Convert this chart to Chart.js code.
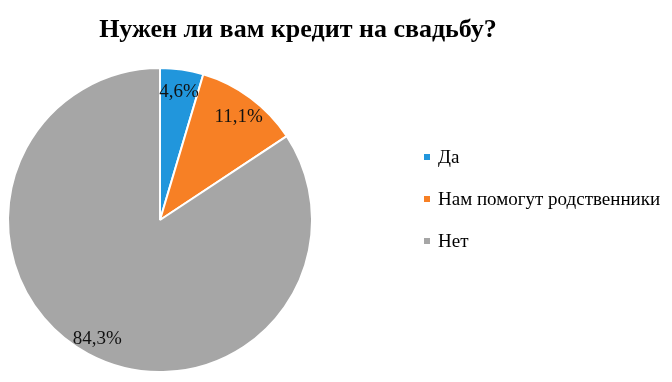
<!DOCTYPE html>
<html lang="ru">
<head>
<meta charset="utf-8">
<script src="https://cdn.jsdelivr.net/npm/chart.js@4"></script>
<style>
    body { margin: 0; background: #fff; }
    #quadro { position: relative; width: 672px; height: 382px; font-family: "Liberation Serif", "Times New Roman", serif; }
    #titulo { position: absolute; left: 0; top: 13px; width: 596px; text-align: center; font-size: 26px; font-weight: bold; line-height: 32px; color: #000; }
    #legenda .item { position: absolute; left: 424px; height: 20px; display: flex; align-items: center; font-size: 19px; color: #000; white-space: nowrap; }
    #legenda .caixa { width: 6px; height: 6px; margin-right: 8px; }
    canvas { position: absolute; left: 0; top: 0; }
</style>
</head>
<body>
<div id="quadro">
    <canvas id="graficoCredito" width="672" height="382"></canvas>
    <div id="titulo">Нужен ли вам кредит на свадьбу?</div>
    <div id="legenda"></div>
</div>
<script>
const categorias = ['Да', 'Нам помогут родственники', 'Нет'];
const valores = [4.6, 11.1, 84.3];
const cores = ['#2196DC', '#F78025', '#A6A6A6'];

function formatarPercentual(v) {
    return v.toFixed(1).replace('.', ',') + '%';
}

// Legenda em HTML, uma linha por categoria
const legenda = document.getElementById('legenda');
const topos = [147, 189, 231];
categorias.forEach((nome, i) => {
    const item = document.createElement('div');
    item.className = 'item';
    item.style.top = topos[i] + 'px';
    const caixa = document.createElement('span');
    caixa.className = 'caixa';
    caixa.style.background = cores[i];
    item.appendChild(caixa);
    item.appendChild(document.createTextNode(nome));
    legenda.appendChild(item);
});

// Rótulos de porcentagem dentro das fatias
const rotulosPlugin = {
    id: 'rotulos',
    afterDatasetsDraw(chart) {
        const ctx = chart.ctx;
        const meta = chart.getDatasetMeta(0);
        ctx.save();
        ctx.font = '19px "Liberation Serif"';
        ctx.fillStyle = '#111';
        ctx.textAlign = 'center';
        ctx.textBaseline = 'middle';
        meta.data.forEach((arco, i) => {
            const p = arco.getProps(['x', 'y', 'startAngle', 'endAngle', 'outerRadius'], true);
            const meio = (p.startAngle + p.endAngle) / 2;
            const r = p.outerRadius * 0.87;
            ctx.fillText(formatarPercentual(valores[i]), p.x + Math.cos(meio) * r, p.y + Math.sin(meio) * r + 3);
        });
        ctx.restore();
    }
};

const ctx = document.getElementById('graficoCredito').getContext('2d');
window.graficoCredito = new Chart(ctx, {
    type: 'pie',
    data: {
        labels: categorias,
        datasets: [{
            data: valores,
            backgroundColor: cores,
            borderColor: '#fff',
            borderWidth: 2
        }]
    },
    options: {
        responsive: false,
        animation: false,
        layout: {
            padding: { left: 7, right: 359, top: 67, bottom: 9 }
        },
        plugins: {
            legend: { display: false },
            tooltip: { enabled: false },
            title: { display: false }
        }
    },
    plugins: [rotulosPlugin]
});
</script>
</body>
</html>
